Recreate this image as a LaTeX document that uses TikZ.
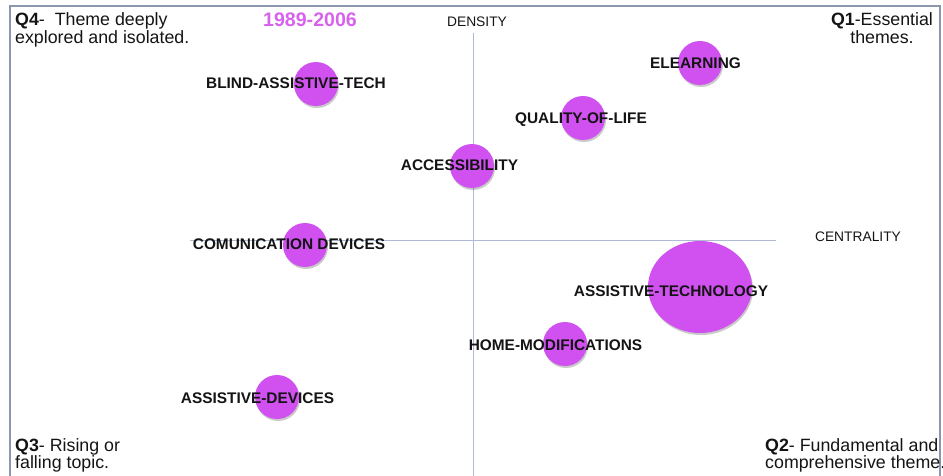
\documentclass[tikz,border=0pt]{standalone}
\usepackage{fontspec}
\setmainfont{Liberation Sans}
\usetikzlibrary{shadows,shapes.geometric}
\definecolor{bub}{HTML}{D050F0}
\definecolor{ttl}{HTML}{D763EC}
\definecolor{axiscol}{HTML}{B0BAD6}
\definecolor{framecol}{HTML}{8C96AC}
\definecolor{txt}{HTML}{141414}
\begin{document}
\begin{tikzpicture}[x=1pt,y=-1pt,
  bubble/.style={circle, fill=bub, draw=none, inner sep=0pt, minimum size=#1,
    drop shadow={shadow xshift=1pt, shadow yshift=-2pt, opacity=0.3, fill=black!70}},
  bigbubble/.style={ellipse, fill=bub, draw=none, inner sep=0pt, minimum width=104pt, minimum height=92pt,
    drop shadow={shadow xshift=1pt, shadow yshift=-2pt, opacity=0.3, fill=black!70}},
  lbl/.style={anchor=base, font=\fontsize{15.4}{15.4}\selectfont\bfseries, text=txt, inner sep=0pt},
  quad/.style={anchor=base west, font=\fontsize{17.8}{18.5}\selectfont, text=txt, inner sep=0pt},
  quadc/.style={anchor=base, font=\fontsize{17.8}{18.5}\selectfont, text=txt, inner sep=0pt},
  axlbl/.style={anchor=base, font=\fontsize{13.8}{14}\selectfont, text=txt, inner sep=0pt},
  axisline/.style={draw=axiscol, line width=1pt},
  framel/.style={draw=framecol, line width=1.5pt}]
\useasboundingbox (0,0) rectangle (943,476);
% frame
\coordinate (fbl) at (10,485);
\coordinate (ftr) at (940,6);
\coordinate (fbr) at (940,485);
\draw[framel] (fbl) |- (ftr) -- (fbr);
% axes
\coordinate (vtop) at (473,33);
\coordinate (vbot) at (473,485);
\coordinate (hl) at (190,240);
\coordinate (hr) at (776,240);
\draw[axisline] (vtop) -- (vbot);
\draw[axisline] (hl) -- (hr);
\node[axlbl] (dens) at (477,27) {DENSITY};
\node[axlbl] (cent) at (858,241) {CENTRALITY};
% title
\node[anchor=base, font=\fontsize{19.6}{19.6}\selectfont\bfseries, text=ttl, inner sep=0pt] (title) at (310,26.5) {1989-2006};
% quadrant texts
\node[quad] (q4a) at (15,26) {\textbf{Q4}-\ \ Theme deeply};
\node[quad] (q4b) at (15,44) {explored and isolated.};
\node[quadc] (q1a) at (882,26) {\textbf{Q1}-Essential};
\node[quadc] (q1b) at (882,44) {themes.};
\node[quad] (q3a) at (15,451) {\textbf{Q3}- Rising or};
\node[quad] (q3b) at (15,468) {falling topic.};
\node[quad] (q2a) at (765,451) {\textbf{Q2}- Fundamental and};
\node[quad] (q2b) at (765,468) {comprehensive theme.};
% bubbles
\node[bubble=44pt] (b1) at (700,63) {};
\node[bubble=44pt] (b2) at (316,84) {};
\node[bubble=44pt] (b3) at (583,118) {};
\node[bubble=44pt] (b4) at (472,166) {};
\node[bubble=44pt] (b5) at (305,245) {};
\node[bigbubble] (b6) at (700,287) {};
\node[bubble=44pt] (b7) at (565,344) {};
\node[bubble=44pt] (b8) at (277,397) {};
% labels
\node[lbl] (l1) at (695.5,69) {ELEARNING};
\node[lbl] (l2) at (296,89) {BLIND-ASSISTIVE-TECH};
\node[lbl] (l3) at (581,124) {QUALITY-OF-LIFE};
\node[lbl] (l4) at (459.5,171) {ACCESSIBILITY};
\node[lbl] (l5) at (289,249) {COMUNICATION DEVICES};
\node[lbl] (l6) at (671,296.5) {ASSISTIVE-TECHNOLOGY};
\node[lbl] (l7) at (555.5,350.5) {HOME-MODIFICATIONS};
\node[lbl] (l8) at (257.5,403) {ASSISTIVE-DEVICES};
\end{tikzpicture}
\end{document}
